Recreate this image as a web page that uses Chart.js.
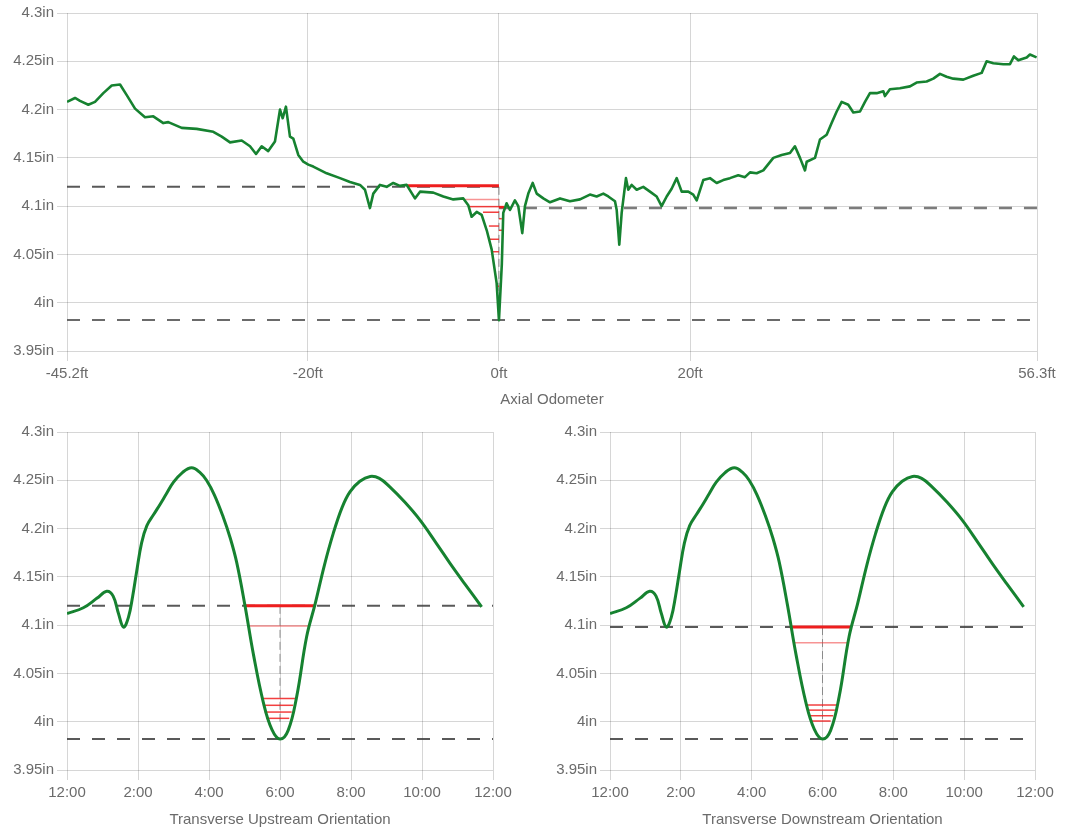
<!DOCTYPE html>
<html><head><meta charset="utf-8">
<script src="https://cdn.jsdelivr.net/npm/chart.js@4"></script>
<style>
html,body{margin:0;padding:0;background:#fff;width:1065px;height:832px;overflow:hidden}
canvas{position:absolute}
</style></head><body>
<canvas id="axial" width="1065" height="415" style="left:0px;top:0px"></canvas>
<canvas id="up" width="530" height="414" style="left:0px;top:418px"></canvas>
<canvas id="down" width="525" height="414" style="left:540px;top:418px"></canvas>
<script>
// ---------- DATA ----------
const axialTicks = [-45.2, -20, 0, 20, 56.3];
const axialFt = [-45.2,-44.36,-43.84,-42.97,-42.27,-41.4,-40.52,-39.65,-38.95,-38.08,-37.04,-36.17,-35.12,-34.6,-33.2,-31.63,-29.89,-29.01,-28.14,-26.92,-26.05,-25.42,-24.83,-24.14,-23.44,-22.91,-22.63,-22.29,-21.87,-21.52,-21.0,-20.47,-19.95,-19.43,-18.03,-16.63,-15.59,-14.54,-14.02,-13.5,-13.15,-12.45,-11.75,-11.06,-10.36,-9.66,-8.79,-8.26,-6.87,-5.82,-4.78,-3.73,-3.21,-2.86,-2.33,-1.81,-1.28,-0.76,-0.24,0,0.3,0.45,0.8,1.15,1.67,2.02,2.44,2.72,3.07,3.53,3.95,4.64,5.34,6.39,7.43,8.48,9.52,10.22,10.92,11.44,12.14,12.32,12.59,12.84,13.29,13.53,13.88,14.41,15.1,15.8,16.5,17.02,17.55,18.07,18.6,19.12,19.81,20.33,20.69,21.38,22.08,22.78,23.47,24.17,25.04,25.74,26.27,26.96,27.66,28.71,29.58,30.45,30.97,31.5,32.02,32.2,33.07,33.59,34.29,34.81,35.34,35.86,36.55,37.08,37.78,38.3,38.82,39.52,40.22,40.39,40.91,41.96,43.01,43.7,44.75,45.45,46.15,46.84,47.54,48.59,49.63,50.51,51.03,51.73,52.77,53.47,53.89,54.34,55.22,55.56,56.26];
const axialIn = [4.208,4.212,4.209,4.205,4.208,4.217,4.225,4.226,4.215,4.201,4.192,4.193,4.186,4.187,4.181,4.18,4.177,4.172,4.166,4.168,4.162,4.154,4.162,4.157,4.167,4.2,4.191,4.203,4.172,4.17,4.153,4.146,4.143,4.141,4.134,4.129,4.125,4.122,4.117,4.098,4.113,4.122,4.12,4.124,4.121,4.122,4.108,4.115,4.114,4.11,4.107,4.108,4.101,4.089,4.094,4.091,4.075,4.055,4.02,3.982,4.04,4.093,4.103,4.096,4.106,4.1,4.072,4.1,4.113,4.124,4.113,4.108,4.104,4.108,4.105,4.107,4.112,4.11,4.113,4.11,4.105,4.096,4.06,4.093,4.129,4.117,4.122,4.117,4.12,4.115,4.11,4.1,4.11,4.118,4.129,4.115,4.115,4.112,4.106,4.127,4.129,4.124,4.127,4.129,4.132,4.13,4.135,4.134,4.137,4.15,4.153,4.155,4.162,4.15,4.137,4.146,4.15,4.169,4.174,4.186,4.198,4.208,4.205,4.197,4.198,4.208,4.217,4.217,4.219,4.214,4.221,4.222,4.224,4.228,4.229,4.232,4.237,4.234,4.232,4.231,4.235,4.238,4.25,4.248,4.247,4.247,4.255,4.251,4.254,4.257,4.254];
const upperLimitUp = 4.12;
const upperLimitDown = 4.098;
const lowerLimit = 3.982;
// red depth lines on the axial chart (left of 0ft, and right of 0ft)
const axialRedLevels = [4.121, 4.107, 4.0995, 4.0937, 4.0794, 4.0657, 4.0528, 4.017];
const axialRedStart  = [-9.6, -3.55, -3.03, -1.67, -1.05, -0.94, -0.63, -0.2];
const axialRedRightLevels = [4.099, 4.087, 4.075];
const axialRedRightEnd    = [0.55, 0.3, 0.35];

const clockHours = [0,0.46,0.85,1.12,1.3,1.45,1.59,1.73,1.85,1.96,2.1,2.25,2.45,2.62,2.8,3.0,3.25,3.51,3.75,3.93,4.15,4.4,4.6,4.78,5.01,5.25,5.53,5.77,6.0,6.23,6.47,6.75,6.99,7.25,7.5,7.75,7.97,8.25,8.54,8.8,9.1,9.5,9.94,10.4,10.79,11.2,11.68];
const upstreamIn = [4.112,4.118,4.128,4.135,4.13,4.112,4.098,4.108,4.13,4.155,4.185,4.203,4.215,4.225,4.236,4.248,4.258,4.263,4.258,4.25,4.235,4.212,4.19,4.165,4.121,4.07,4.02,3.992,3.982,3.991,4.026,4.088,4.122,4.162,4.195,4.222,4.238,4.249,4.254,4.252,4.243,4.228,4.209,4.185,4.164,4.143,4.119];
const downstreamIn = [4.112,4.118,4.128,4.135,4.13,4.112,4.098,4.108,4.13,4.155,4.185,4.203,4.215,4.225,4.236,4.248,4.258,4.263,4.258,4.25,4.235,4.212,4.19,4.165,4.121,4.07,4.02,3.992,3.982,3.991,4.026,4.088,4.122,4.162,4.195,4.222,4.238,4.249,4.254,4.252,4.243,4.228,4.209,4.185,4.164,4.143,4.119];
const upRedLevels = [4.12, 4.099, 4.024, 4.017, 4.010, 4.0035];
const upRedStart  = [5.01, 5.11, 5.48, 5.52, 5.57, 5.62];
const upRedEnd    = [6.99, 6.80, 6.42, 6.37, 6.33, 6.26];
const downRedLevels = [4.098, 4.0817, 4.0173, 4.012, 4.0062, 4.0007];
const downRedStart  = [5.08, 5.18, 5.55, 5.60, 5.64, 5.69];
const downRedEnd    = [6.82, 6.73, 6.40, 6.35, 6.30, 6.23];
const depthMarkBottom = 4.0;

// ---------- STYLE ----------
const TXT = '#6b6b6b';
const GRID = 'rgba(0,0,0,0.16)';
const FONT = {family: "'Liberation Sans', Arial, sans-serif", size: 15};
const GREEN = 'rgb(22,130,48)';
const DASH = [13, 12];

function seg(x1, x2, y1, y2, color, width, dash) {
  return {data: [{x: x1, y: y1}, {x: x2, y: y2}], borderColor: color, borderWidth: width,
    borderDash: dash || [], pointRadius: 0, fill: false, tension: 0, borderCapStyle: 'butt'};
}
function redStyle(i) {
  if (i === 0) return ['rgb(238,30,30)', 3];
  if (i === 1) return ['rgba(240,60,60,0.55)', 1.5];
  return ['rgba(240,30,30,0.85)', 1.5];
}
function yScale(width) {
  return {type: 'linear', min: 3.95, max: 4.3,
    ticks: {stepSize: 0.05, color: TXT, font: FONT, padding: 3, callback: v => (+v.toFixed(2)) + 'in'},
    grid: {color: GRID, tickLength: 10}, border: {display: false},
    afterFit: s => { s.width = width; }};
}
function clockX(title) {
  return {type: 'linear', min: 0, max: 12,
    ticks: {stepSize: 2, autoSkip: false, maxRotation: 0, color: TXT, font: FONT, padding: 4,
      callback: v => (v === 0 || v === 12 ? 12 : v) + ':00'},
    grid: {color: GRID, tickLength: 10}, border: {display: false},
    title: {display: true, text: title, color: TXT, font: FONT, padding: {top: 4, bottom: 3}},
    afterFit: s => { s.height = 62; }};
}
const baseOpts = {responsive: false, animation: false, devicePixelRatio: 1,
  plugins: {legend: {display: false}, tooltip: {enabled: false}}};

// ---------- AXIAL CHART ----------
const axialSets = [{data: axialFt.map((x, i) => ({x, y: axialIn[i]})), borderColor: GREEN, borderWidth: 2.6,
  pointRadius: 0, fill: false, tension: 0, borderJoinStyle: 'round'}];
axialRedLevels.forEach((lv, i) => { const [c, w] = redStyle(i); axialSets.push(seg(axialRedStart[i], 0, lv, lv, c, w)); });
axialRedRightLevels.forEach((lv, i) => axialSets.push(seg(0, axialRedRightEnd[i], lv, lv, i === 0 ? 'rgb(238,30,30)' : 'rgba(240,30,30,0.85)', i === 0 ? 2.5 : 1.5)));
axialSets.push(seg(0, 0, upperLimitUp, depthMarkBottom, 'rgba(90,90,90,0.7)', 1, [8, 4]));
axialSets.push(seg(-45.2, 0, upperLimitUp, upperLimitUp, 'rgba(60,60,60,0.85)', 2, DASH));
axialSets.push(seg(0, 56.3, upperLimitDown, upperLimitDown, 'rgba(110,110,110,0.9)', 2.5, DASH));
axialSets.push(seg(-45.2, 56.3, lowerLimit, lowerLimit, 'rgba(90,90,90,0.9)', 2, DASH));

new Chart(document.getElementById('axial'), {type: 'line', data: {datasets: axialSets},
  options: Object.assign({}, baseOpts, {
    layout: {padding: {top: 13, right: 28, left: 0, bottom: 0}},
    scales: {
      x: {type: 'linear', min: -45.2, max: 56.3,
        afterBuildTicks: s => { s.ticks = axialTicks.map(v => ({value: v})); },
        ticks: {autoSkip: false, maxRotation: 0, color: TXT, font: FONT, padding: 4, callback: v => v + 'ft'},
        grid: {color: GRID, tickLength: 10}, border: {display: false},
        title: {display: true, text: 'Axial Odometer', color: TXT, font: FONT, padding: {top: 4, bottom: 6}},
        afterFit: s => { s.height = 64; }},
      y: yScale(67)
    }})});

// ---------- TRANSVERSE CHARTS ----------
function transverse(id, values, redLv, redS, redE, upper, yW, padR, title) {
  const sets = [{data: clockHours.map((x, i) => ({x, y: values[i]})), borderColor: GREEN, borderWidth: 3,
    pointRadius: 0, fill: false, tension: 0.4, borderJoinStyle: 'round'}];
  redLv.forEach((lv, i) => { const [c, w] = redStyle(i); sets.push(seg(redS[i], redE[i], lv, lv, c, w)); });
  sets.push(seg(6, 6, upper, depthMarkBottom, 'rgba(120,120,120,0.8)', 1, [8, 4]));
  sets.push(seg(0, 12, upper, upper, 'rgba(60,60,60,0.85)', 2, DASH));
  sets.push(seg(0, 12, lowerLimit, lowerLimit, 'rgba(60,60,60,0.85)', 2, DASH));
  new Chart(document.getElementById(id), {type: 'line', data: {datasets: sets},
    options: Object.assign({}, baseOpts, {
      layout: {padding: {top: 14, right: padR, left: 0, bottom: 0}},
      scales: {x: clockX(title), y: yScale(yW)}})});
}
transverse('up', upstreamIn, upRedLevels, upRedStart, upRedEnd, upperLimitUp, 67, 37, 'Transverse Upstream Orientation');
transverse('down', downstreamIn, downRedLevels, downRedStart, downRedEnd, upperLimitDown, 70, 30, 'Transverse Downstream Orientation');
</script>
</body></html>
